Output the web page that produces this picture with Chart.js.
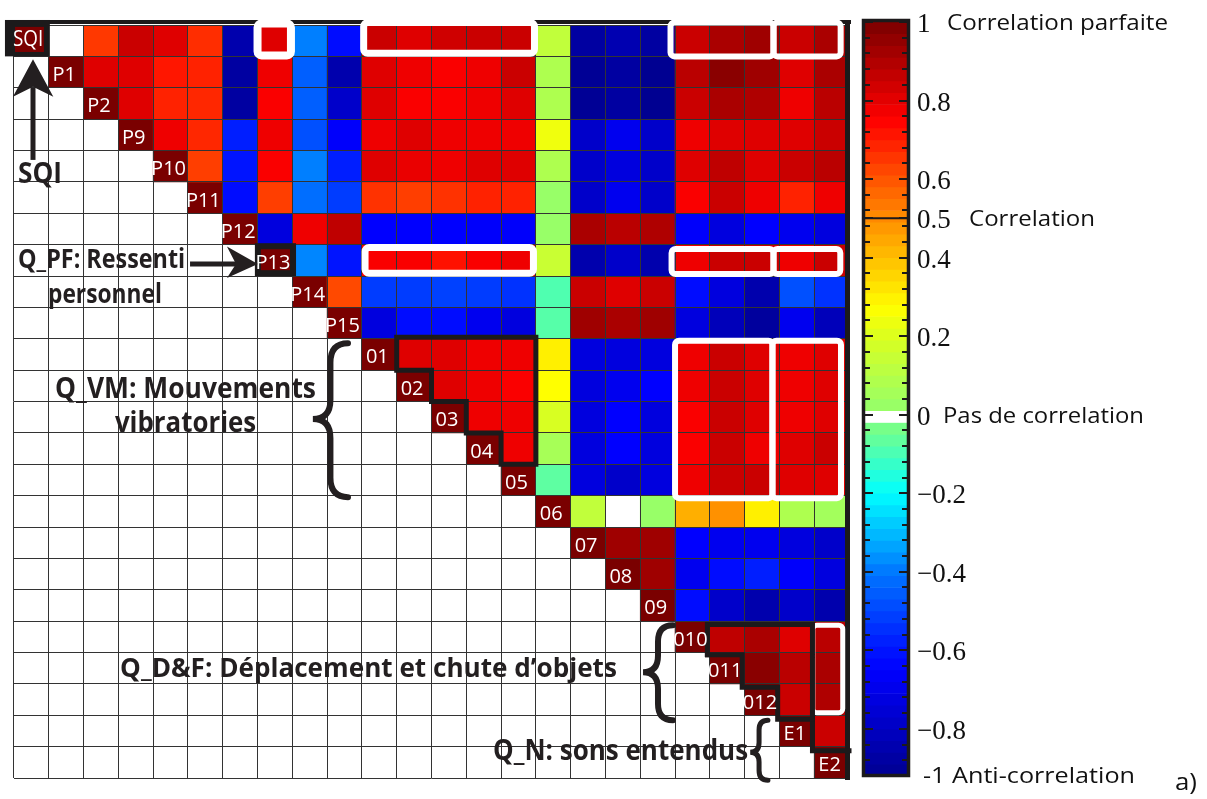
<!DOCTYPE html>
<html><head><meta charset="utf-8">
<script src="https://cdn.jsdelivr.net/npm/chart.js@4.4.1/dist/chart.umd.min.js"></script>
<style>
html,body{margin:0;padding:0;background:#fff;width:1207px;height:799px;overflow:hidden}
#m{position:absolute;left:0;top:0;width:860px;height:799px}
#c{position:absolute;left:855px;top:0;width:352px;height:799px}
</style></head><body>
<canvas id="m" width="860" height="799"></canvas>
<canvas id="c" width="352" height="799"></canvas>
<script>
// ---- categories ----
const variables = ['SQI','P1','P2','P9','P10','P11','P12','P13','P14','P15','01','02','03','04','05','06','07','08','09','010','011','012','E1','E2'];

// ---- upper-triangle correlations (each row: columns after the diagonal) ----
const rowSQI = [null, 0.65, 0.85, 0.81, 0.67, -0.85, 0.81, -0.39, -0.62, 0.85, 0.81, 0.84, 0.85, 0.85, 0.13, -0.88, -0.84, -0.88, 0.85, 0.91, 0.93, 0.85, 0.91];
const rowP1  = [0.81, 0.81, 0.71, 0.69, -0.88, 0.78, -0.45, -0.85, 0.81, 0.78, 0.76, 0.78, 0.85, 0.08, -0.91, -0.88, -0.92, 0.88, 0.97, 0.93, 0.81, 0.91];
const rowP2  = [0.81, 0.69, 0.68, -0.88, 0.76, -0.45, -0.78, 0.81, 0.76, 0.76, 0.78, 0.81, 0.08, -0.91, -0.88, -0.92, 0.85, 0.91, 0.9, 0.78, 0.88];
const rowP9  = [0.78, 0.68, -0.58, 0.78, -0.48, -0.66, 0.78, 0.81, 0.78, 0.78, 0.78, 0.24, -0.78, -0.69, -0.78, 0.78, 0.81, 0.81, 0.81, 0.85];
const rowP10 = [0.64, -0.6, 0.76, -0.39, -0.58, 0.81, 0.79, 0.78, 0.81, 0.81, 0.08, -0.78, -0.73, -0.78, 0.81, 0.87, 0.81, 0.85, 0.88];
const rowP11 = [-0.62, 0.64, -0.42, -0.52, 0.66, 0.64, 0.66, 0.69, 0.69, 0.02, -0.78, -0.69, -0.78, 0.76, 0.85, 0.78, 0.69, 0.78];
const rowP12 = [-0.73, 0.78, 0.87, -0.65, -0.65, -0.65, -0.66, -0.66, 0.02, 0.91, 0.88, 0.9, -0.66, -0.73, -0.65, -0.69, -0.73];
const rowP13 = [-0.38, -0.6, 0.76, 0.76, 0.72, 0.76, 0.78, 0.15, -0.85, -0.78, -0.85, 0.78, 0.85, 0.85, 0.78, 0.85];
const rowP14 = [0.62, -0.52, -0.52, -0.51, -0.52, -0.54, -0.09, 0.85, 0.81, 0.85, -0.62, -0.73, -0.85, -0.48, -0.54];
const rowP15 = [-0.73, -0.62, -0.62, -0.69, -0.73, -0.08, 0.93, 0.91, 0.93, -0.73, -0.82, -0.89, -0.69, -0.82];
const row01  = [0.81, 0.81, 0.78, 0.78, 0.3, -0.73, -0.73, -0.73, 0.78, 0.85, 0.81, 0.78, 0.81];
const row02  = [0.81, 0.78, 0.76, 0.27, -0.73, -0.69, -0.65, 0.78, 0.85, 0.81, 0.78, 0.81];
const row03  = [0.78, 0.78, 0.19, -0.73, -0.65, -0.73, 0.76, 0.85, 0.81, 0.78, 0.81];
const row04  = [0.78, 0.06, -0.73, -0.65, -0.73, 0.76, 0.85, 0.78, 0.81, 0.85];
const row05  = [-0.07, -0.73, -0.78, -0.73, 0.78, 0.85, 0.85, 0.81, 0.81];
const row06  = [0.13, null, 0.02, 0.43, 0.49, 0.3, 0.08, 0.05];
const row07  = [0.93, 0.93, -0.65, -0.69, -0.69, -0.73, -0.78];
const row08  = [0.93, -0.69, -0.62, -0.58, -0.66, -0.73];
const row09  = [-0.62, -0.78, -0.85, -0.78, -0.85];
const row010 = [0.87, 0.91, 0.81, 0.88];
const row011 = [0.97, 0.88, 0.91];
const row012 = [0.85, 0.9];
const rowE1  = [0.85];
const rowE2  = [];
const upperRows = [rowSQI,rowP1,rowP2,rowP9,rowP10,rowP11,rowP12,rowP13,rowP14,rowP15,row01,row02,row03,row04,row05,row06,row07,row08,row09,row010,row011,row012,rowE1,rowE2];

// ---- colour bar ticks ----
const cbTickValues = [1, 0.8, 0.6, 0.5, 0.4, 0.2, 0, -0.2, -0.4, -0.6, -0.8];
const cbTickLabels = ['1', '0.8', '0.6', '0.5', '0.4', '0.2', '0', '\u22120.2', '\u22120.4', '\u22120.6', '\u22120.8'];
const cbNotes = ['Correlation parfaite', 'Correlation', 'Pas de correlation'];
const cbNoteValues = [1, 0.5, 0];
const cbBottomLabel = '-1 Anti-correlation';
const cbMin = -0.915, cbMax = 1;

// ---- colour map (jet-like) ----
const cmapStops = [[-1,[0,0,112]],[-0.65,[0,0,255]],[-0.6,[0,20,255]],[-0.4,[0,120,255]],[-0.2,[0,255,255]],[0,[144,255,112]],[0.2,[220,255,30]],[0.27,[255,255,0]],[0.5,[255,140,0]],[0.75,[255,0,0]],[1,[122,0,0]]];
function cmap(v){
  if (v <= cmapStops[0][0]) return 'rgb(' + cmapStops[0][1].join(',') + ')';
  for (let i = 1; i < cmapStops.length; i++){
    const [v1,c1] = cmapStops[i], [v0,c0] = cmapStops[i-1];
    if (v <= v1){
      const t = (v - v0) / (v1 - v0);
      return 'rgb(' + c0.map((a,k)=>Math.round(a + (c1[k]-a)*t)).join(',') + ')';
    }
  }
  return 'rgb(' + cmapStops[cmapStops.length-1][1].join(',') + ')';
}

const SANS = '"Open Sans", "Noto Sans", sans-serif';
function fitText(ctx, text, left, right, baseline, font){
  ctx.font = font;
  const w = ctx.measureText(text).width;
  ctx.save();
  ctx.translate(left, baseline);
  ctx.scale((right-left)/w, 1);
  ctx.textAlign = 'left'; ctx.textBaseline = 'alphabetic';
  ctx.fillText(text, 0, 0);
  ctx.restore();
}

// ---- matrix datasets ----
const datasets = variables.map((name, r) => ({
  label: name,
  data: variables.map(() => [r, r + 1]),
  backgroundColor: variables.map((_, c) => {
    if (c < r) return '#ffffff';
    if (c === r) return cmap(1);
    const v = upperRows[r][c - r - 1];
    return v == null ? '#ffffff' : cmap(v);
  }),
  borderWidth: 0,
  grouped: false,
  barPercentage: 1,
  categoryPercentage: 1
}));

// annotation geometry in grid units (columns, rows)
const whiteBoxes = [
  [7.0, -0.05, 7.96, 0.97, 8], [10.05, -0.08, 14.96, 0.9, 7],
  [18.87, -0.08, 21.83, 1.0, 6], [21.83, -0.08, 23.76, 1.0, 6],
  [10.09, 7.09, 14.93, 7.91, 7], [18.9, 7.14, 21.83, 7.94, 6], [21.83, 7.14, 23.75, 7.94, 6],
  [19.0, 10.06, 21.8, 15.08, 6], [21.8, 10.06, 23.77, 15.08, 6],
  [22.96, 19.13, 23.82, 21.92, 5]
];
const blackPaths = [
  [[11,9.95],[15,9.95],[15,14],[14,14],[14,13],[13,13],[13,12],[12,12],[12,11],[11,11],[11,9.95]],
  [[19.93,20.07],[19.93,19.11],[22.95,19.11],[22.95,23.13],[24,23.13]],
  [[19.93,20.07],[20.93,20.07],[20.93,21.11],[21.95,21.11],[21.95,22.13],[22.95,22.13]]
];
const notes = [
  ['SQI', 0.115, 1.38, 5.04, 29],
  ['Q_PF: Ressenti', 0.115, 4.92, 7.75, 26],
  ['personnel', 0.977, 4.25, 8.86, 26],
  ['Q_VM: Mouvements', 1.18, 8.68, 11.89, 28],
  ['vibratories', 2.90, 6.96, 12.98, 28],
  ['Q_D&F: D\u00e9placement et chute d\u2019objets', 3.05, 17.33, 20.79, 27],
  ['Q_N: sons entendus', 13.77, 21.1, 23.44, 28]
];
const braces = [ // xl, xr, yt, yb, ym, lw
  [8.59, 9.6, 10.14, 15.05, 12.56, 6],
  [18.08, 18.94, 19.13, 22.16, 20.63, 6],
  [21.16, 21.67, 22.16, 24.07, 23.18, 5]
];

const matrixDecor = {
  id: 'matrixDecor',
  afterDraw(chart){
    const {ctx, scales:{x, y}} = chart;
    const gx = c => x.getPixelForValue(c - 0.5);
    const gy = r => y.getPixelForValue(r);
    ctx.save();
    // thick frame top and right
    ctx.fillStyle = '#1c1a1b';
    ctx.fillRect(gx(0), gy(0) - 5, gx(24) - gx(0) + 2, 4);
    ctx.fillRect(gx(24) - 4, gy(0) - 5, 5, gy(24) - gy(0) + 7);
    // white boxes
    ctx.strokeStyle = '#ffffff';
    whiteBoxes.forEach(([c0,r0,c1,r1,lw]) => {
      ctx.lineWidth = lw;
      ctx.beginPath();
      ctx.roundRect(gx(c0), gy(r0), gx(c1)-gx(c0), gy(r1)-gy(r0), 4);
      ctx.stroke();
    });
    // black staircase outlines
    ctx.strokeStyle = '#1c1a1b'; ctx.lineWidth = 5; ctx.lineJoin = 'miter'; ctx.lineCap = 'square';
    blackPaths.forEach(pts => {
      ctx.beginPath();
      pts.forEach(([c,r],i) => i ? ctx.lineTo(gx(c), gy(r)) : ctx.moveTo(gx(c), gy(r)));
      ctx.stroke();
    });
    // SQI label box
    ctx.fillStyle = '#1c1a1b';
    ctx.fillRect(gx(-0.26), gy(-0.16), gx(1.03)-gx(-0.26), gy(1.0)-gy(-0.16));
    ctx.fillStyle = cmap(1);
    ctx.fillRect(gx(0.03), gy(0.06), gx(0.86)-gx(0.03), gy(0.86)-gy(0.06));
    // P13 label box
    ctx.strokeStyle = '#1c1a1b'; ctx.lineWidth = 6;
    ctx.strokeRect(gx(7.01), gy(7.05), gx(8.02)-gx(7.01), gy(7.91)-gy(7.05));
    // diagonal labels
    ctx.fillStyle = '#ffffff';
    ctx.textAlign = 'center'; ctx.textBaseline = 'alphabetic';
    variables.forEach((name, i) => {
      if (i === 0) {
        fitText(ctx, name, gx(-0.03), gx(0.84), gy(0.66), '22px ' + SANS);
        return;
      }
      ctx.font = '20px ' + SANS;
      ctx.textAlign = 'center';
      ctx.fillText(name, gx(i + 0.5) - 2, gy(i + 0.5) + 9);
    });
    // annotation texts
    ctx.fillStyle = '#231f20';
    notes.forEach(([t, l, r, b, fs]) => fitText(ctx, t, gx(l), gx(r), gy(b), 'bold ' + fs + 'px ' + SANS));
    // arrows
    ctx.strokeStyle = '#231f20'; ctx.lineWidth = 5; ctx.lineCap = 'butt';
    ctx.beginPath(); ctx.moveTo(gx(0.546), gy(4.3)); ctx.lineTo(gx(0.546), gy(2.0)); ctx.stroke();
    ctx.beginPath();
    ctx.moveTo(gx(0.546), gy(1.09)); ctx.lineTo(gx(1.13), gy(2.29)); ctx.lineTo(gx(0.546), gy(1.97)); ctx.lineTo(gx(-0.03), gy(2.29)); ctx.closePath(); ctx.fill();
    ctx.beginPath(); ctx.moveTo(gx(5.06), gy(7.62)); ctx.lineTo(gx(6.4), gy(7.62)); ctx.stroke();
    ctx.beginPath();
    ctx.moveTo(gx(7.01), gy(7.62)); ctx.lineTo(gx(6.12), gy(7.06)); ctx.lineTo(gx(6.38), gy(7.62)); ctx.lineTo(gx(6.12), gy(8.06)); ctx.closePath(); ctx.fill();
    // braces
    ctx.lineCap = 'round';
    braces.forEach(([xl, xr, yt, yb, ym, lw]) => {
      const L = gx(xl), R = gx(xr), T = gy(yt), B = gy(yb), M = gy(ym);
      const S = (L + R) / 2, k = (R - L) * 0.55;
      ctx.lineWidth = lw;
      ctx.beginPath();
      ctx.moveTo(R, T);
      ctx.quadraticCurveTo(S, T, S, T + k);
      ctx.lineTo(S, M - k);
      ctx.quadraticCurveTo(S, M, L, M);
      ctx.quadraticCurveTo(S, M, S, M + k);
      ctx.lineTo(S, B - k);
      ctx.quadraticCurveTo(S, B, R, B);
      ctx.stroke();
    });
    ctx.restore();
  }
};

new Chart(document.getElementById('m'), {
  type: 'bar',
  data: { labels: variables, datasets },
  options: {
    responsive: false, animation: false, devicePixelRatio: 1,
    layout: { padding: { left: 14, top: 25, right: 11, bottom: 21 } },
    plugins: { legend: { display: false }, tooltip: { enabled: false } },
    scales: {
      x: { type: 'category', offset: true, grid: { offset: true, color: '#333', lineWidth: 1, drawTicks: false, z: 1 }, ticks: { display: false }, border: { display: false } },
      y: { type: 'linear', min: 0, max: 24, reverse: true, ticks: { display: false, stepSize: 1 }, grid: { color: '#333', lineWidth: 1, drawTicks: false, z: 1 }, border: { display: false } }
    }
  },
  plugins: [matrixDecor]
});

// ---- colour bar ----
const cbStep = 0.03;
const bands = [];
for (let hi = cbMax; hi > cbMin + 1e-9; hi -= cbStep) {
  const lo = Math.max(cbMin, hi - cbStep);
  const mid = (hi + lo) / 2;
  bands.push({ lo, hi, color: (hi > 0 && lo < 0 && mid < 0.005) ? '#ffffff' : cmap(mid) });
}
const cbDecor = {
  id: 'cbDecor',
  afterDraw(chart){
    const {ctx, chartArea: a, scales:{y}} = chart;
    ctx.save();
    ctx.strokeStyle = '#1c1a1b';
    // 0.5 line
    ctx.lineWidth = 2;
    ctx.beginPath(); ctx.moveTo(a.left, y.getPixelForValue(0.5)); ctx.lineTo(a.right, y.getPixelForValue(0.5)); ctx.stroke();
    // minor/major ticks
    ctx.lineWidth = 2;
    for (let v = cbMax - 0.04; v > cbMin; v -= 0.04) {
      const py = Math.round(y.getPixelForValue(v));
      ctx.beginPath(); ctx.moveTo(a.left, py); ctx.lineTo(a.left + 5, py); ctx.moveTo(a.right, py); ctx.lineTo(a.right - 5, py); ctx.stroke();
    }
    cbTickValues.forEach(v => {
      const py = Math.round(y.getPixelForValue(v));
      ctx.beginPath(); ctx.moveTo(a.left, py); ctx.lineTo(a.left + 8, py); ctx.moveTo(a.right, py); ctx.lineTo(a.right - 8, py); ctx.stroke();
    });
    // frame
    ctx.lineWidth = 3.5;
    ctx.strokeRect(a.left - 1.5, a.top - 1.5, a.right - a.left + 3, a.bottom - a.top + 3);
    // tick labels
    ctx.fillStyle = '#111';
    ctx.font = '27px "Liberation Serif", "DejaVu Serif", serif';
    ctx.textAlign = 'left'; ctx.textBaseline = 'alphabetic';
    cbTickLabels.forEach((t, i) => ctx.fillText(t, a.right + 10, y.getPixelForValue(cbTickValues[i]) + 10));
    // notes
    const noteBox = [[92, 313], [114, 240], [88, 289]];
    cbNotes.forEach((t, i) => fitText(ctx, t, noteBox[i][0], noteBox[i][1], y.getPixelForValue(cbNoteValues[i]) + 8, '22px ' + SANS));
    fitText(ctx, cbBottomLabel, 68, 280, a.bottom + 9, '22px ' + SANS);
    fitText(ctx, 'a)', 320, 342, 790, '23px ' + SANS);
    ctx.restore();
  }
};
new Chart(document.getElementById('c'), {
  type: 'bar',
  data: {
    labels: ['cb'],
    datasets: bands.map(b => ({ data: [[b.lo, b.hi]], backgroundColor: b.color, borderWidth: 0, grouped: false, barPercentage: 1, categoryPercentage: 1 }))
  },
  options: {
    responsive: false, animation: false, devicePixelRatio: 1,
    layout: { padding: { left: 10, top: 22, right: 300, bottom: 25 } },
    plugins: { legend: { display: false }, tooltip: { enabled: false } },
    scales: {
      x: { display: false, offset: true },
      y: { display: false, min: cbMin, max: cbMax }
    }
  },
  plugins: [cbDecor]
});
</script>
</body></html>
